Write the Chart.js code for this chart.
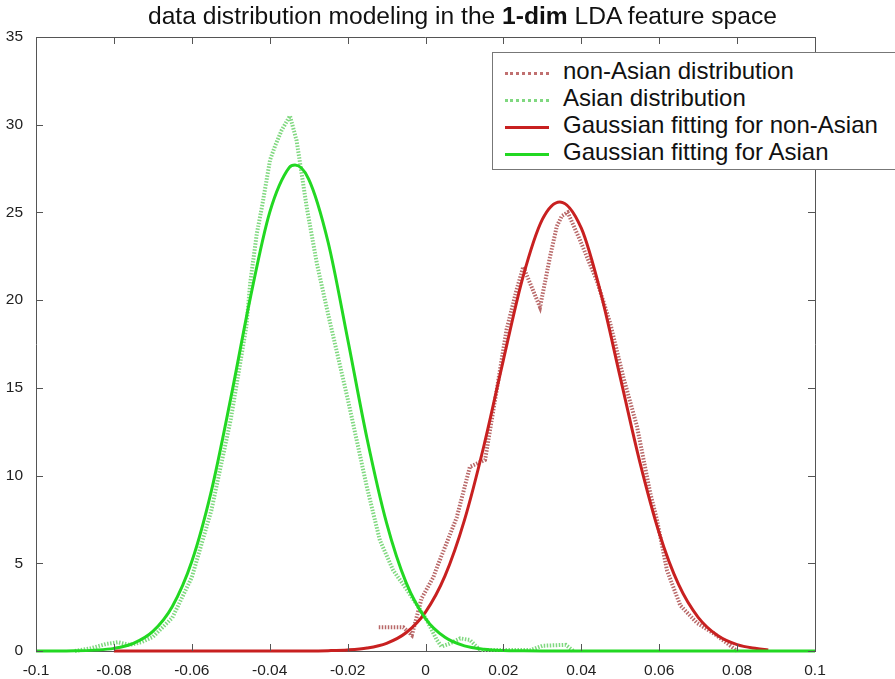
<!DOCTYPE html>
<html>
<head>
<meta charset="utf-8">
<script src="https://cdn.jsdelivr.net/npm/chart.js@4.4.1/dist/chart.umd.min.js"></script>
<style>
  html, body { margin: 0; padding: 0; background: #fff; }
  #wrap { position: relative; width: 895px; height: 679px; overflow: hidden; font-family: "Liberation Sans", Arial, sans-serif; }
  #chart { position: absolute; left: 0; top: 0; }
  #title { position: absolute; left: 148px; top: 2px; font-size: 24.6px; color: #111; white-space: nowrap; }
  #legend { position: absolute; left: 492px; top: 52px; width: 420px; height: 118px; background: #fff; border: 1px solid #777; box-sizing: border-box; }
  .row { position: absolute; left: 0; height: 27px; font-size: 24px; color: #111; white-space: nowrap; }
  .row span.s { position: absolute; left: 12px; top: 15px; width: 44px; height: 0; }
  .row span.t { position: absolute; left: 70px; top: 0px; line-height: 27px; }
</style>
</head>
<body>
<div id="wrap">
  <canvas id="chart" width="895" height="679"></canvas>
  <div id="title">data distribution modeling in the <b>1-dim</b> LDA feature space</div>
  <div id="legend">
    <div class="row" style="top:4px"><span class="s" style="border-top:3px dotted #c07070"></span><span class="t">non-Asian distribution</span></div>
    <div class="row" style="top:31px"><span class="s" style="border-top:3px dotted #80d880"></span><span class="t">Asian distribution</span></div>
    <div class="row" style="top:58px"><span class="s" style="border-top:3px solid #c82020"></span><span class="t">Gaussian fitting for non-Asian</span></div>
    <div class="row" style="top:85px"><span class="s" style="border-top:3px solid #22d822"></span><span class="t">Gaussian fitting for Asian</span></div>
  </div>
</div>
<script>
// values
const asianFitX = [-0.1, -0.095, -0.09, -0.085, -0.08, -0.075, -0.07, -0.065, -0.06, -0.055, -0.05, -0.045, -0.04, -0.035, -0.0335, -0.03, -0.025, -0.02, -0.015, -0.01, -0.005, 0, 0.005, 0.01, 0.015, 0.02, 0.025, 0.03, 0.1];
const asianFitY = [0, 0, 0.01, 0.05, 0.15, 0.44, 1.12, 2.54, 5.1, 9.1, 14.4, 20.1, 25.0, 27.55, 27.7, 26.9, 23.3, 17.8, 12.1, 7.3, 3.91, 1.85, 0.78, 0.29, 0.1, 0.03, 0.01, 0, 0];

const nonAsianFitX = [-0.08, -0.03, -0.025, -0.02, -0.015, -0.01, -0.005, 0, 0.005, 0.01, 0.015, 0.02, 0.025, 0.03, 0.0345, 0.04, 0.045, 0.05, 0.055, 0.06, 0.065, 0.07, 0.075, 0.08, 0.085, 0.088];
const nonAsianFitY = [0, 0.005, 0.02, 0.06, 0.17, 0.44, 1.04, 2.22, 4.28, 7.46, 11.7, 16.6, 21.3, 24.6, 25.6, 24.1, 20.4, 15.6, 10.8, 6.73, 3.78, 1.92, 0.88, 0.36, 0.14, 0.06];

const asianDistX = [-0.09, -0.086, -0.082, -0.079, -0.076, -0.073, -0.07, -0.065, -0.06, -0.055, -0.05, -0.046, -0.045, -0.0433, -0.042, -0.0399, -0.0386, -0.0369, -0.0348, -0.0331, -0.0322, -0.0305, -0.0279, -0.025, -0.02, -0.015, -0.0117, -0.0083, -0.0048, -0.0018, 0.0003, 0.0029, 0.0041, 0.006, 0.0089, 0.0114, 0.014, 0.027, 0.03, 0.036, 0.038];
const asianDistY = [0, 0.15, 0.4, 0.5, 0.35, 0.5, 0.8, 1.9, 4.2, 8.0, 13.2, 18.5, 21.0, 23.8, 25.3, 28.0, 28.8, 29.7, 30.5, 29.1, 27.8, 25.3, 22.1, 19.2, 14.4, 9.3, 6.3, 4.6, 3.5, 2.5, 1.77, 0.63, 0.25, 0.4, 0.72, 0.63, 0.05, 0.05, 0.3, 0.35, 0];

const nonAsianDistX = [-0.012, -0.0057, -0.0035, -0.001, 0.002, 0.003, 0.008, 0.0114, 0.0153, 0.0183, 0.0208, 0.0234, 0.0251, 0.0294, 0.032, 0.0337, 0.035, 0.0365, 0.0397, 0.044, 0.0474, 0.0508, 0.0543, 0.0577, 0.0594, 0.062, 0.0654, 0.0697, 0.074, 0.0774, 0.08];
const nonAsianDistY = [1.35, 1.35, 0.9, 3.0, 4.2, 4.8, 7.6, 10.5, 10.9, 14.9, 18.3, 20.6, 21.9, 19.6, 22.5, 24.2, 24.8, 25.0, 23.4, 21.1, 18.7, 15.6, 12.8, 9.0, 7.5, 4.6, 2.6, 1.6, 1.0, 0.45, 0];

const xTicks = [-0.1, -0.08, -0.06, -0.04, -0.02, 0, 0.02, 0.04, 0.06, 0.08, 0.1];
const yTicks = [0, 5, 10, 15, 20, 25, 30, 35];

const pts = (xs, ys) => xs.map((x, i) => ({ x: x, y: ys[i] }));

// MATLAB-style box with inward ticks
const boxTicks = {
  id: 'boxTicks',
  afterDraw(chart) {
    const { ctx, chartArea: a, scales } = chart;
    ctx.save();
    ctx.strokeStyle = '#555';
    ctx.lineWidth = 1;
    ctx.beginPath();
    ctx.moveTo(a.left, a.top + 0.5);
    ctx.lineTo(a.right + 0.5, a.top + 0.5);
    ctx.lineTo(a.right + 0.5, a.bottom);
    xTicks.forEach(v => {
      const px = Math.round(scales.x.getPixelForValue(v)) + 0.5;
      ctx.moveTo(px, a.bottom); ctx.lineTo(px, a.bottom - 7);
      ctx.moveTo(px, a.top); ctx.lineTo(px, a.top + 7);
    });
    yTicks.forEach(v => {
      const py = Math.round(scales.y.getPixelForValue(v)) + 0.5;
      ctx.moveTo(a.left, py); ctx.lineTo(a.left + 7, py);
      ctx.moveTo(a.right, py); ctx.lineTo(a.right - 7, py);
    });
    ctx.stroke();
    ctx.restore();
  }
};

new Chart(document.getElementById('chart'), {
  type: 'line',
  data: {
    datasets: [
      { label: 'Gaussian fitting for Asian', data: pts(asianFitX, asianFitY), borderColor: '#22d822', borderWidth: 3, cubicInterpolationMode: 'monotone' },
      { label: 'Gaussian fitting for non-Asian', data: pts(nonAsianFitX, nonAsianFitY), borderColor: '#c82020', borderWidth: 3, cubicInterpolationMode: 'monotone' },
      { label: 'Asian distribution', data: pts(asianDistX, asianDistY), borderColor: '#80d880', borderWidth: 4, borderDash: [1.5, 1.5] },
      { label: 'non-Asian distribution', data: pts(nonAsianDistX, nonAsianDistY), borderColor: '#b86868', borderWidth: 4, borderDash: [1.5, 1.5] }
    ]
  },
  plugins: [boxTicks],
  options: {
    responsive: false,
    animation: false,
    clip: false,
    elements: { point: { radius: 0 }, line: { fill: false } },
    layout: { padding: { top: 37, right: 80, left: 0, bottom: 0 } },
    plugins: { legend: { display: false }, tooltip: { enabled: false } },
    scales: {
      x: {
        type: 'linear', min: -0.1, max: 0.1,
        afterFit: s => { s.height = 28; },
        afterBuildTicks: s => { s.ticks = xTicks.map(v => ({ value: v })); },
        grid: { display: false },
        border: { display: true, color: '#555' },
        ticks: { padding: 2, color: '#222', font: { family: 'Liberation Sans', size: 15.5 }, maxRotation: 0,
                 callback: v => String(Number(v.toFixed(2))) }
      },
      y: {
        min: 0, max: 35,
        afterFit: s => { s.width = 36; },
        afterBuildTicks: s => { s.ticks = yTicks.map(v => ({ value: v })); },
        grid: { display: false },
        border: { display: true, color: '#555' },
        ticks: { padding: 5, color: '#222', font: { family: 'Liberation Sans', size: 15.5 } }
      }
    }
  }
});
</script>
</body>
</html>
